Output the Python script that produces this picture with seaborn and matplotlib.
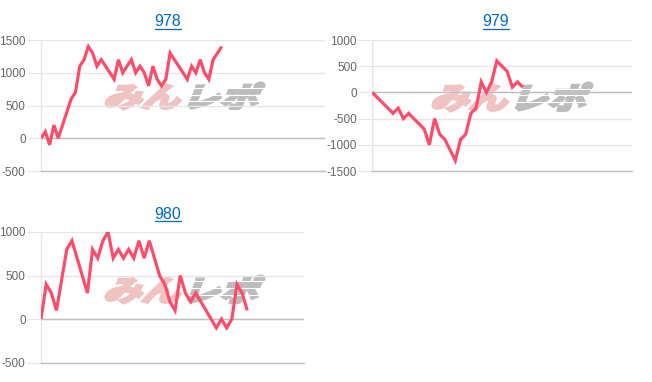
import numpy as np
import pandas as pd
import matplotlib
matplotlib.use("Agg")
import matplotlib.pyplot as plt
import seaborn as sns
from matplotlib.textpath import TextPath
from matplotlib.font_manager import FontProperties
from matplotlib.patches import PathPatch
from matplotlib.transforms import Affine2D
from matplotlib.path import Path
from matplotlib.lines import Line2D

# ---------------- data ----------------
titles = ["978", "979", "980"]
values_978 = [0, 100, -100, 200, 0, 200, 400, 600, 700, 1100, 1200, 1400, 1300,
              1100, 1200, 1100, 1000, 900, 1200, 1000, 1100, 1200, 1000, 1100,
              1000, 800, 1100, 900, 800, 900, 1300, 1200, 1100, 1000, 900, 1100,
              1000, 1200, 1000, 900, 1200, 1300, 1400]
values_979 = [0, -100, -200, -300, -400, -300, -500, -400, -500, -600, -700,
              -1000, -500, -800, -900, -1100, -1300, -900, -800, -400, -300,
              200, 0, 200, 600, 500, 400, 100, 200, 100]
values_980 = [0, 400, 300, 100, 450, 800, 900, 700, 500, 300, 800, 700, 900,
              1000, 700, 800, 700, 800, 700, 900, 700, 900, 700, 500, 400, 200,
              100, 500, 300, 200, 300, 200, 100, 0, -100, 0, -100, 0, 400, 300, 100]
series = [values_978, values_979, values_980]
y_ranges = [(-500, 1500), (-1500, 1000), (-500, 1000)]
x_slots = [66, 50, 51]

# ---------------- style ----------------
sns.set_theme(style="white")
plt.rcParams["font.family"] = ["Liberation Sans", "DejaVu Sans"]

W, H = 652, 382
fig = plt.figure(figsize=(W / 100, H / 100), dpi=100)
fig.patch.set_facecolor("white")

LINE = "#ff4d6b"
GRID = "#e6e6e6"
ZERO = "#bfbfbf"
TICK = "#666666"
LINK = "#0066cc"
PINK = "#f0c2c2"
GRAY = "#bcbcbc"


def rect(l, r, t, b):
    return [l / W, 1 - b / H, (r - l) / W, (b - t) / H]


axes_px = [(41, 325, 40, 171), (372.3, 631.7, 40, 171), (41, 304, 232, 362.7)]
title_px = [(168, 26.5), (496, 26.5), (168, 219)]
mark_px = [(106, 264, 83, 109), (433, 592, 83, 111), (106, 264, 276, 303)]

fp = FontProperties(family=["Noto Sans CJK JP"], weight="bold")


def xf(p, M):
    return Path(M.transform(p.vertices), p.codes)


def watermark(box):
    l, r, t, b = box
    sk = Affine2D().skew_deg(16, 0)
    p1 = xf(TextPath((0, 0), "みん", size=100, prop=fp), sk)
    p2 = xf(TextPath((205, 0), "レポ", size=100, prop=fp), sk)
    e1, e2 = p1.get_extents(), p2.get_extents()
    x0, y0 = min(e1.x0, e2.x0), min(e1.y0, e2.y0)
    x1, y1 = max(e1.x1, e2.x1), max(e1.y1, e2.y1)
    M = (Affine2D().translate(-x0, -y0)
         .scale((r - l) / W / (x1 - x0), (b - t) / H / (y1 - y0))
         .translate(l / W, 1 - b / H))
    fig.add_artist(PathPatch(xf(p1, M), transform=fig.transFigure,
                             fc=PINK, ec=PINK, lw=2.2, joinstyle="miter",
                             zorder=-2))
    q2 = xf(p2, M)
    fig.add_artist(PathPatch(q2, transform=fig.transFigure,
                             fc=GRAY, ec=GRAY, lw=2.2, joinstyle="miter",
                             zorder=-2))
    # speed-line stripes across the grey part
    ex = q2.get_extents()
    for frac in (0.3, 0.55, 0.8):
        yy = ex.y0 + frac * (ex.y1 - ex.y0)
        fig.add_artist(Line2D([ex.x0 - 0.01, ex.x1 + 0.01], [yy, yy],
                              transform=fig.transFigure, color="white",
                              lw=0.8, zorder=-1.5))


title_texts = []
for i in range(3):
    vals = series[i]
    df = pd.DataFrame({"idx": np.arange(len(vals)), "value": vals})
    ax = fig.add_axes(rect(*axes_px[i]))
    ax.set_facecolor("none")
    watermark(mark_px[i])
    ax.axhline(0, color=ZERO, lw=1, zorder=1)
    sns.lineplot(data=df, x="idx", y="value", ax=ax, color=LINE, linewidth=2.3,
                 zorder=3)
    for ln in ax.get_lines():
        ln.set_solid_joinstyle("miter")
        ln.set_solid_capstyle("butt")
    lo, hi = y_ranges[i]
    ax.set_ylim(lo, hi)
    ax.set_xlim(0, x_slots[i])
    ax.set_yticks(np.arange(lo, hi + 1, 500))
    ax.set_yticklabels([str(v) for v in np.arange(lo, hi + 1, 500)])
    ax.set_xticks([])
    ax.set_xlabel("")
    ax.set_ylabel("")
    ax.grid(axis="y", color=GRID, lw=1)
    ax.grid(axis="x", visible=False)
    ax.tick_params(axis="y", length=10, width=0.8, color=GRID, pad=1,
                   labelsize=8.5, labelcolor=TICK, left=True)
    for s in ["top", "right"]:
        ax.spines[s].set_visible(False)
    ax.spines["left"].set_color(GRID)
    ax.spines["left"].set_linewidth(1)
    ax.spines["bottom"].set_color(ZERO)
    ax.spines["bottom"].set_linewidth(1)
    tx, ty = title_px[i]
    t = fig.text(tx / W, 1 - ty / H, titles[i], ha="center", va="baseline",
                 fontsize=11.5, color=LINK)
    title_texts.append((t, ty))

fig.canvas.draw()
for t, ty in title_texts:
    bb = t.get_window_extent()
    yline = 1 - (ty + 2) / H
    fig.add_artist(Line2D([bb.x0 / W, bb.x1 / W], [yline, yline],
                          transform=fig.transFigure, color=LINK, lw=0.9))

fig.savefig("out.png", dpi=100, facecolor="white")
